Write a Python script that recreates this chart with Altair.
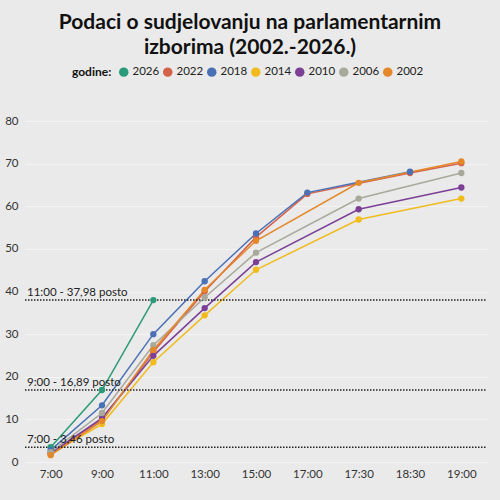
import altair as alt
import pandas as pd

times = ["7:00", "9:00", "11:00", "13:00", "15:00", "17:00", "17:30", "18:30", "19:00"]
years = ["2026", "2022", "2018", "2014", "2010", "2006", "2002"]
colors = ["#2a9a78", "#d4614a", "#4a70b5", "#f1bb1e", "#7b3f96", "#a8a99a", "#e4882a"]

v2026 = [3.46, 16.89, 37.98, None, None, None, None, None, None]
v2022 = [2.0, 9.9, 25.8, 40.0, 52.75, 62.9, None, 67.8, 70.1]
v2018 = [2.8, 13.3, 30.0, 42.4, 53.6, 63.2, None, 68.1, None]
v2014 = [1.9, 8.9, 23.4, 34.4, 45.1, None, 56.9, None, 61.8]
v2010 = [2.1, 10.3, 24.9, 36.1, 46.9, None, 59.3, None, 64.4]
v2006 = [2.3, 11.5, 27.4, 38.6, 49.1, None, 61.8, None, 67.8]
v2002 = [1.6, 9.6, 26.3, 40.4, 51.9, None, 65.5, None, 70.5]
series = [v2026, v2022, v2018, v2014, v2010, v2006, v2002]

rule_values = [37.98, 16.89, 3.46]
rule_labels = ["11:00 - 37,98 posto", "9:00 - 16,89 posto", "7:00 - 3,46 posto"]

rows = []
for y, vals in zip(years, series):
    for t, v in zip(times, vals):
        if v is not None:
            rows.append({"godina": y, "vrijeme": t, "posto": v})
df = pd.DataFrame(rows)
rules = pd.DataFrame({"v": rule_values, "label": rule_labels})

FONT = "Lato"
W, H = 462, 341

x = alt.X("vrijeme:N", sort=times, scale=alt.Scale(domain=times),
          axis=alt.Axis(title=None, labelAngle=0, domain=False, ticks=False, grid=False,
                        labelPadding=6, labelFontSize=11.5, labelColor="#333", labelFont=FONT))
y = alt.Y("posto:Q", scale=alt.Scale(domain=[0, 80], nice=False),
          axis=alt.Axis(title=None, values=list(range(0, 81, 10)), domain=False, ticks=False,
                        labelPadding=7, labelFontSize=11.5, labelColor="#333", labelFont=FONT,
                        gridColor="#f4f4f4", gridWidth=1))

lines = alt.Chart(df).mark_line(strokeWidth=1.5).encode(
    x=x, y=y,
    stroke=alt.Stroke("godina:N", scale=alt.Scale(domain=years, range=colors), sort=years, legend=None),
    detail="godina:N",
)
points = alt.Chart(df).mark_circle(size=40, opacity=1).encode(
    x=x, y=y,
    color=alt.Color("godina:N", scale=alt.Scale(domain=years, range=colors), sort=years,
                    legend=alt.Legend(title="godine:", orient="none", direction="horizontal",
                                      legendX=47, legendY=-55, titleOrient="left",
                                      symbolType="circle", symbolSize=90, columnPadding=2,
                                      labelFontSize=11.5, titleFontSize=12, labelFont=FONT,
                                      titleFont=FONT, titleFontWeight="bold", labelColor="#222",
                                      titleColor="#111", titlePadding=6, labelOffset=3,
                                      symbolOpacity=1)),
)
rule = alt.Chart(rules).mark_rule(color="#222", strokeWidth=1.5, strokeDash=[1.5, 1.5]).encode(
    y=alt.Y("v:Q"), x=alt.value(0), x2=alt.value(W)
)
rule_text = alt.Chart(rules).mark_text(align="left", baseline="bottom", dy=-2, fontSize=11.5,
                                        font=FONT, color="#222").encode(
    y=alt.Y("v:Q"), x=alt.value(2), text="label:N"
)

chart = alt.layer(lines, rule, rule_text, points).properties(
    width=W, height=H,
    background="#eaeaea",
    padding={"left": 25, "top": 121, "right": 13, "bottom": 38},
    autosize=alt.AutoSizeParams(type="none"),
    title=alt.Title(["Podaci o sudjelovanju na parlamentarnim", "izborima (2002.-2026.)"],
                    font=FONT, fontSize=21, fontWeight="bold", color="#111", anchor="middle",
                    offset=8, lineHeight=25, dx=-6),
).resolve_scale(color="independent").configure_view(stroke=None)

chart.save("out.html", embed_options={"renderer": "svg", "actions": False})
